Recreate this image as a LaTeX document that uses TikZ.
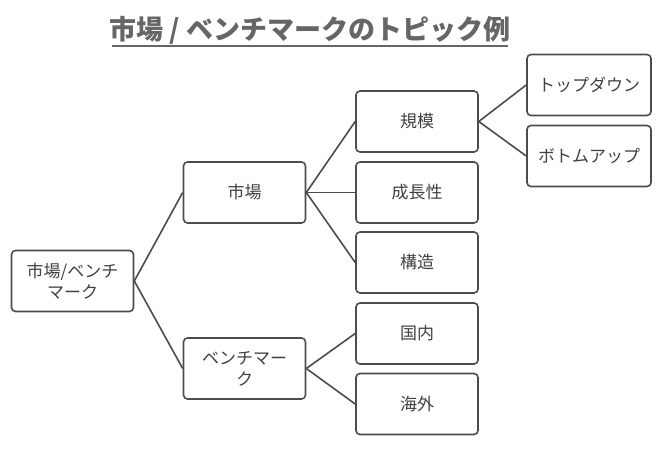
\documentclass[tikz,border=0pt]{standalone}
\usepackage{fontspec}
\newfontfamily\cjk{Noto Sans CJK JP}
\usetikzlibrary{positioning}
\tikzset{box/.style={draw=black!70, line width=1.6pt, rounded corners=4pt, minimum width=122pt, minimum height=61pt, align=center, font=\cjk\fontsize{17}{21}\selectfont, text=black!75},
         link/.style={draw=black!70, line width=1.6pt}}

\begin{document}
\begin{tikzpicture}[x=1pt,y=-1pt]
\useasboundingbox (0,0) rectangle (662,458);
	\node[font=\cjk\bfseries\fontsize{27}{30}\selectfont, text=black!60] (title) at (310,30) {市場 / ベンチマークのトピック例};
	\draw[black!60, line width=2pt] (112,46) -- (508,46);
	\node[box] (root) at (72.5,281) {市場/ベンチ\\マーク};
	\node[box] (mkt) at (244.5,192.5) {市場};
	\node[box] (bench) at (244.5,368.5) {ベンチマー\\ク};
	\node[box] (scale) at (417,121.5) {規模};
	\node[box] (growth) at (417,192.5) {成長性};
	\node[box] (struct) at (417,262.5) {構造};
	\node[box] (dom) at (417,333.5) {国内};
	\node[box] (abroad) at (417,404) {海外};
	\node[box, minimum width=124pt] (down) at (589,85) {トップダウン};
	\node[box, minimum width=124pt] (up) at (589,156) {ボトムアップ};

	\draw[link] (root.east) -- (mkt.west);
	\draw[link] (root.east) -- (bench.west);
	\foreach \c in {scale,growth,struct} \draw[link] (mkt.east) -- (\c.west);
	\foreach \c in {dom,abroad} \draw[link] (bench.east) -- (\c.west);
	\foreach \c in {down,up} \draw[link] (scale.east) -- (\c.west);
\end{tikzpicture}
\end{document}
